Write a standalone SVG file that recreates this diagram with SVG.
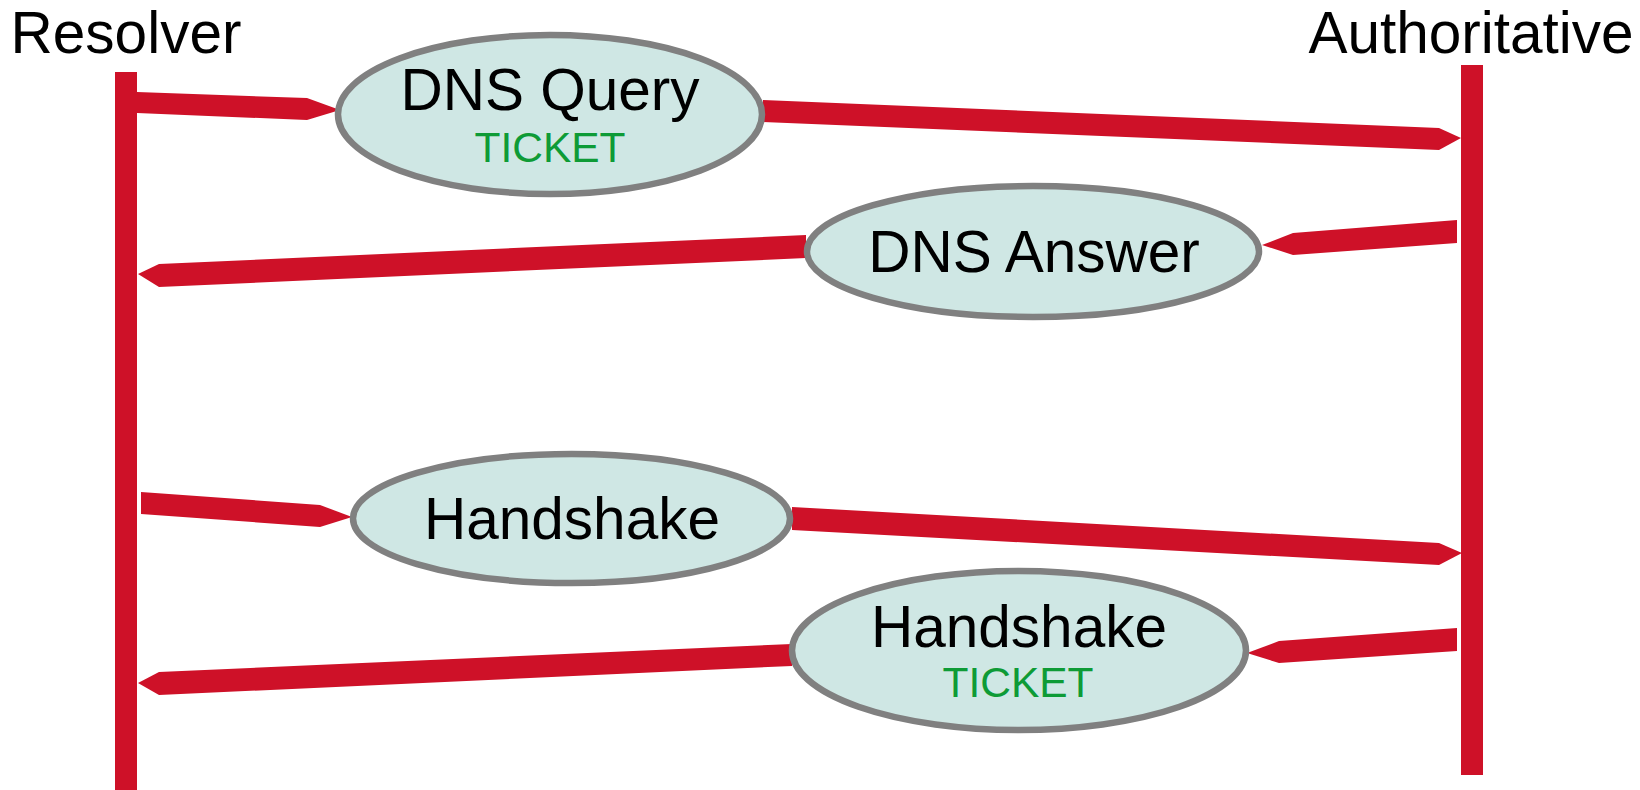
<svg xmlns="http://www.w3.org/2000/svg" width="1640" height="790" viewBox="0 0 1640 790">
<style>
.life{fill:#ce1128}
.arr{fill:#ce1128}
.node{fill:#cfe7e4;stroke:#808080;stroke-width:6.5}
.t{font-family:"Liberation Sans",Arial,sans-serif;fill:#000;text-anchor:middle}
.lbl{font-size:58.5px}
.title{font-size:58.5px}
.tk{font-family:"Liberation Sans",Arial,sans-serif;font-size:42.5px;fill:#0e9b36;text-anchor:middle}
</style>
<rect width="1640" height="790" fill="#fff"/>
<g id="resolver">
<text class="t title" x="126" y="53">Resolver</text>
<rect class="life" x="115" y="72" width="22" height="718"/>
</g>
<g id="authoritative">
<text class="t title" x="1471" y="53">Authoritative</text>
<rect class="life" x="1461" y="65" width="22" height="710"/>
</g>
<g id="connectors">
<polygon class="arr" points="137,92 307,98 340,110 307,120 137,113"/>
<polygon class="arr" points="763,100 1439,128 1461,138 1439,150 763,122"/>
<polygon class="arr" points="1457,220 1293,233 1262,245 1293,255 1457,243"/>
<polygon class="arr" points="806,235 159,264 138,274 159,287 806,258"/>
<polygon class="arr" points="141,492 320,505 352,517 320,527 141,514"/>
<polygon class="arr" points="792,507 1439,543 1462,553 1439,565 792,530"/>
<polygon class="arr" points="1457,628 1279,641 1247,653 1279,663 1457,651"/>
<polygon class="arr" points="792,644 159,672 138,683 159,695 792,666"/>
</g>
<g id="dns-query">
<ellipse class="node" cx="550" cy="114.5" rx="212" ry="79.5"/>
<text class="t lbl" x="550" y="110">DNS Query</text>
<text class="tk" x="550" y="162">TICKET</text>
</g>
<g id="dns-answer">
<ellipse class="node" cx="1033" cy="251.5" rx="226" ry="65.5"/>
<text class="t lbl" x="1034" y="272">DNS Answer</text>
</g>
<g id="handshake-1">
<ellipse class="node" cx="571.5" cy="518.5" rx="218.5" ry="64.5"/>
<text class="t lbl" x="572" y="539">Handshake</text>
</g>
<g id="handshake-2">
<ellipse class="node" cx="1019" cy="650.5" rx="227" ry="79.5"/>
<text class="t lbl" x="1019" y="647">Handshake</text>
<text class="tk" x="1018" y="697">TICKET</text>
</g>
</svg>
